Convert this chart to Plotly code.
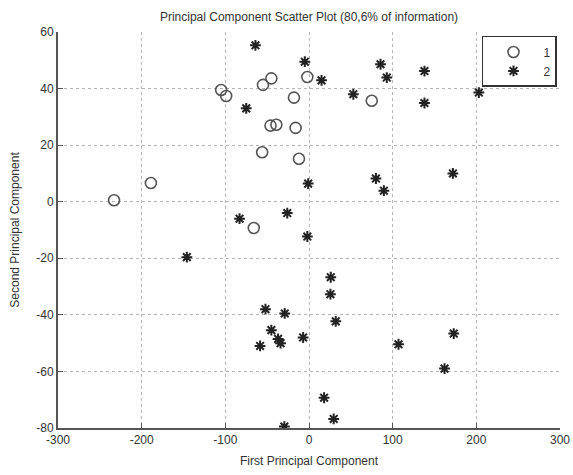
import plotly.graph_objects as go

# Class 1 (circles)
pc1_class1 = [-233, -189, -105, -99, -55, -45, -18, -46, -39, -16, -56, -12, -66, -2, 75]
pc2_class1 = [0.5, 6.6, 39.5, 37.4, 41.3, 43.6, 36.8, 26.9, 27.2, 26.1, 17.5, 15.2, -9.3, 44.1, 35.7]

# Class 2 (stars)
pc1_class2 = [-64, -5, -75, -1, -26, -83, 15, 53, 85.5, 93, 138, 138, 203, 172, 80, 89.5,
              -2, -146, -52, -29, -45, -37, -34, -58.5, -7, -29.5, 26, 25.6, 32, 107, 173,
              162, 18, 29.5]
pc2_class2 = [55.3, 49.5, 33, 6.4, -4, -6, 42.9, 38, 48.6, 43.9, 46.2, 34.9, 38.6, 10, 8.2, 3.9,
              -12.3, -19.6, -38, -39.5, -45.4, -48.5, -50, -51, -48, -79.5, -26.7, -32.7, -42.3,
              -50.4, -46.6, -59, -69.3, -76.8]

x_ticks = [-300, -200, -100, 0, 100, 200, 300]
x_tick_labels = ["-300", "-200", "-100", "0", "100", "200", "300"]
y_ticks = [-80, -60, -40, -20, 0, 20, 40, 60]
y_tick_labels = ["-80", "-60", "-40", "-20", "0", "20", "40", "60"]

font = dict(family="Liberation Sans, Arial, sans-serif", size=12, color="#333333")

fig = go.Figure()
fig.add_trace(go.Scatter(
    x=pc1_class1, y=pc2_class1, mode="markers", name="1",
    marker=dict(symbol="circle-open", size=11, color="#555555", line=dict(width=1.6, color="#555555")),
))
fig.add_trace(go.Scatter(
    x=pc1_class2, y=pc2_class2, mode="markers", name="2",
    marker=dict(symbol="asterisk-open", size=9, color="#222222", line=dict(width=2, color="#222222")),
))

axis_common = dict(
    showgrid=True, gridcolor="#b5b5b5", griddash="dot", gridwidth=1,
    showline=True, linecolor="#555555", linewidth=1.8, mirror=False,
    ticks="inside", ticklen=5, tickcolor="#555555",
    zeroline=False, tickfont=font, automargin=False,
)

fig.update_layout(
    width=573, height=475,
    margin=dict(l=58, r=13, t=32, b=47),
    paper_bgcolor="white", plot_bgcolor="white",
    font=font,
    title=dict(text="Principal Component Scatter Plot (80,6% of information)",
               xref="paper", x=0.5, xanchor="center",
               yref="container", y=0.965, yanchor="middle",
               font=dict(family="Liberation Sans, Arial, sans-serif", size=12, color="#333333")),
    xaxis=dict(range=[-300, 300], tickvals=x_ticks, ticktext=x_tick_labels,
               title=dict(text="First Principal Component", standoff=10, font=font),
               **axis_common),
    yaxis=dict(range=[-80, 60], tickvals=y_ticks, ticktext=y_tick_labels,
               title=dict(text="Second Principal Component", standoff=14, font=font),
               **axis_common),
    legend=dict(x=0.994, y=0.99, xanchor="right", yanchor="top",
                bgcolor="white", bordercolor="#333333", borderwidth=1.5,
                font=dict(family="Liberation Sans, Arial, sans-serif", size=12, color="#333333"),
                itemwidth=50, tracegroupgap=0),
    showlegend=True,
)

fig.write_html("out.html")
